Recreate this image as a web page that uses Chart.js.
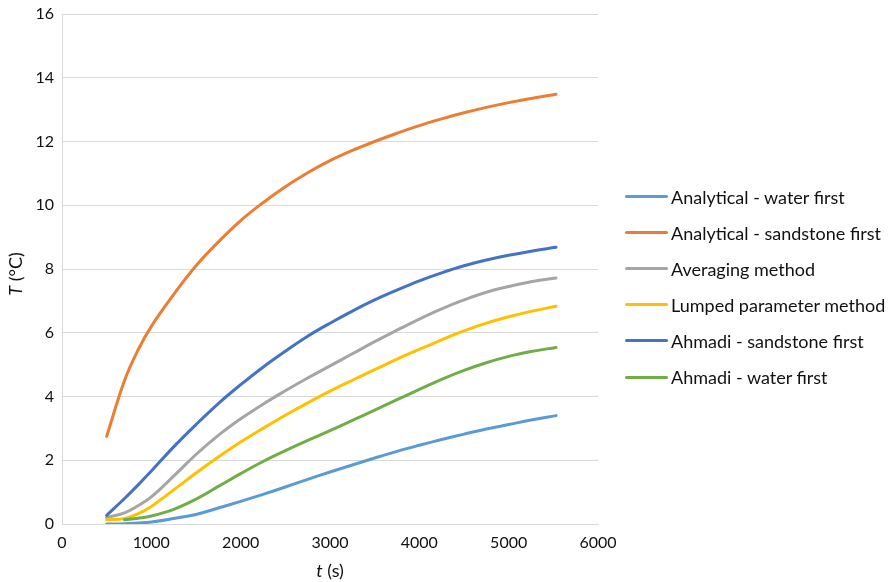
<!DOCTYPE html>
<html>
<head>
<meta charset="utf-8">
<script src="https://cdn.jsdelivr.net/npm/chart.js@4.4.1/dist/chart.umd.min.js"></script>
<style>
  html, body { margin: 0; padding: 0; background: #fff; }
  #wrap { position: relative; width: 895px; height: 582px; }
  #legend { position: absolute; left: 625px; top: 0; font-family: Lato, "Open Sans", sans-serif; font-size: 18px; color: #111; }
  .item { position: absolute; left: 0; white-space: nowrap; height: 20px; line-height: 20px; }
  .swatch { position: absolute; left: 0; top: 8.5px; width: 43px; height: 3px; border-radius: 1.5px; }
  .label { position: absolute; left: 46px; top: 0; }
</style>
</head>
<body>
<div id="wrap">
  <canvas id="tempChart" width="895" height="582"></canvas>
  <div id="legend"></div>
</div>
<script>
// ================= DATA =================
const times = [500, 700, 850, 1000, 1250, 1500, 1750, 2000, 2250, 2500, 2750, 3000,
               3250, 3500, 3750, 4000, 4250, 4500, 4750, 5000, 5250, 5530];

const analyticalWater = [0.0, 0.01, 0.03, 0.06, 0.17, 0.3, 0.5, 0.71, 0.93, 1.16, 1.4, 1.63,
                         1.85, 2.07, 2.28, 2.47, 2.65, 2.82, 2.98, 3.12, 3.26, 3.4];
const analyticalSandstone = [2.75, 4.5, 5.45, 6.2, 7.2, 8.1, 8.85, 9.52, 10.08, 10.58, 11.02, 11.4,
                             11.72, 12.0, 12.26, 12.5, 12.71, 12.9, 13.07, 13.22, 13.35, 13.48];
const averaging = [0.2, 0.35, 0.57, 0.85, 1.5, 2.18, 2.78, 3.3, 3.76, 4.18, 4.58, 4.96,
                   5.34, 5.72, 6.08, 6.43, 6.75, 7.03, 7.27, 7.45, 7.6, 7.72];
const lumped = [0.13, 0.17, 0.32, 0.55, 1.07, 1.6, 2.1, 2.57, 3.0, 3.41, 3.8, 4.17,
                4.51, 4.84, 5.17, 5.48, 5.78, 6.06, 6.3, 6.5, 6.67, 6.83];
const ahmadiSandstone = [0.27, 0.8, 1.22, 1.66, 2.42, 3.12, 3.78, 4.37, 4.92, 5.42, 5.89, 6.3,
                         6.68, 7.03, 7.34, 7.63, 7.88, 8.1, 8.28, 8.43, 8.56, 8.68];
const ahmadiWater = [null, 0.13, 0.18, 0.25, 0.46, 0.78, 1.18, 1.58, 1.96, 2.3, 2.62, 2.93,
                     3.25, 3.57, 3.9, 4.22, 4.54, 4.82, 5.06, 5.26, 5.41, 5.54];

const seriesNames = ["Analytical - water first", "Analytical - sandstone first", "Averaging method",
                     "Lumped parameter method", "Ahmadi - sandstone first", "Ahmadi - water first"];
const seriesValues = [analyticalWater, analyticalSandstone, averaging, lumped, ahmadiSandstone, ahmadiWater];
const seriesColors = ["#5B9BD5", "#ED7D31", "#A5A5A5", "#FFC000", "#4472C4", "#70AD47"];

const xTicks = [0, 1000, 2000, 3000, 4000, 5000, 6000];
const yTicks = [0, 2, 4, 6, 8, 10, 12, 14, 16];

const FONT = "Lato, 'Open Sans', sans-serif";
const TEXT = "#111";

// axis titles with italic symbols
const axisTitles = {
    id: "axisTitles",
    afterDraw(chart) {
        const ctx = chart.ctx;
        const area = chart.chartArea;
        const drawMixed = (parts, cx, cy, rot) => {
            ctx.save();
            ctx.translate(cx, cy);
            ctx.rotate(rot);
            ctx.fillStyle = TEXT;
            ctx.textBaseline = "middle";
            let total = 0;
            parts.forEach(p => { ctx.font = p[1] + " 18px " + FONT; total += ctx.measureText(p[0]).width; });
            let x = -total / 2;
            parts.forEach(p => {
                ctx.font = p[1] + " 18px " + FONT;
                ctx.fillText(p[0], x, 0);
                x += ctx.measureText(p[0]).width;
            });
            ctx.restore();
        };
        drawMixed([["t", "italic"], [" (s)", "normal"]], (area.left + area.right) / 2, 571, 0);
        drawMixed([["T", "italic"], [" (°C)", "normal"]], 16, 274, -Math.PI / 2);
    }
};

const chart = new Chart(document.getElementById("tempChart"), {
    type: "line",
    data: {
        datasets: seriesNames.map((name, i) => ({
            label: name,
            data: times.map((t, j) => ({ x: t, y: seriesValues[i][j] })),
            borderColor: seriesColors[i],
            backgroundColor: seriesColors[i],
            borderWidth: 3,
            borderCapStyle: "round",
            pointRadius: 0,
            tension: 0.4,
            fill: false,
            order: seriesNames.length - i
        }))
    },
    options: {
        responsive: false,
        animation: false,
        layout: { padding: { left: 0, top: 14, right: 297, bottom: 0 } },
        plugins: {
            legend: { display: false },
            tooltip: { enabled: false }
        },
        scales: {
            x: {
                type: "linear",
                min: 0,
                max: 6000,
                afterBuildTicks: s => { s.ticks = xTicks.map(v => ({ value: v })); },
                afterFit: s => { s.height = 58; s.paddingLeft = 0; s.paddingRight = 0; },
                grid: { display: false, drawTicks: false },
                border: { display: true, color: "#d9d9d9", width: 1 },
                ticks: { padding: 9, color: TEXT, font: { family: FONT, size: 16 }, maxRotation: 0,
                         callback: v => String(v) }
            },
            y: {
                min: 0,
                max: 16,
                afterBuildTicks: s => { s.ticks = yTicks.map(v => ({ value: v })); },
                afterFit: s => { s.width = 62; s.paddingTop = 0; s.paddingBottom = 0; },
                grid: { color: "#d9d9d9", lineWidth: 1, drawTicks: false },
                border: { display: true, color: "#d9d9d9", width: 1 },
                ticks: { padding: 8, color: TEXT, font: { family: FONT, size: 16 } }
            }
        }
    },
    plugins: [axisTitles]
});

// legend built from the chart's datasets
const legend = document.getElementById("legend");
chart.data.datasets.forEach((ds, i) => {
    const row = document.createElement("div");
    row.className = "item";
    row.style.top = (186.5 + i * 36.1) + "px";
    const sw = document.createElement("div");
    sw.className = "swatch";
    sw.style.background = ds.borderColor;
    const lb = document.createElement("span");
    lb.className = "label";
    lb.textContent = ds.label;
    row.appendChild(sw);
    row.appendChild(lb);
    legend.appendChild(row);
});
</script>
</body>
</html>
